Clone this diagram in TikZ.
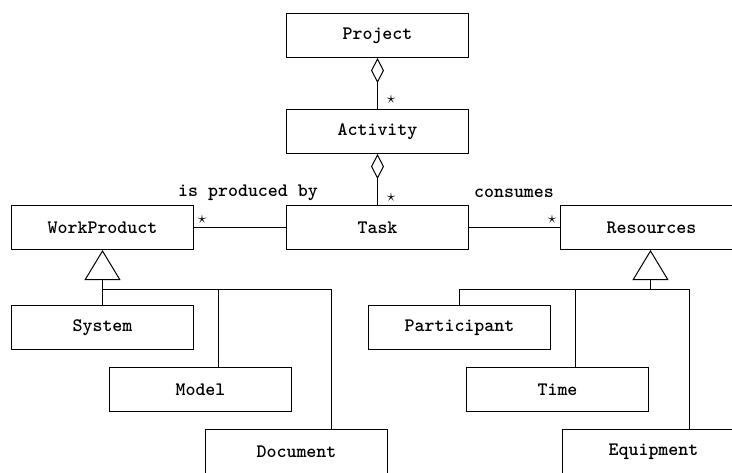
\documentclass[tikz,border=0pt]{standalone}
\usepackage{fontspec}
\usetikzlibrary{arrows.meta}

\newcommand{\umlfont}{\ttfamily\bfseries\fontsize{19}{22}\selectfont}

\begin{document}
\begin{tikzpicture}[x=1pt, y=-1pt, line width=1pt,
    cls/.style={draw, minimum width=182pt, minimum height=44pt, inner sep=0pt, font=\umlfont},
    lbl/.style={inner sep=0pt, font=\umlfont},
    mult/.style={inner sep=0pt, font=\fontsize{16}{16}\selectfont},
    agg/.style={-{Diamond[open, length=25pt, width=13pt]}},
    gen/.style={-{Triangle[open, length=30pt, width=36pt]}}]
    \useasboundingbox (0, 0) rectangle (732, 472);

    \node[cls] (project) at (377.5, 35.5) {Project};
    \node[cls] (activity) at (377.5, 131.5) {Activity};
    \node[cls] (task) at (377.5, 227.5) {Task};
    \node[cls] (workproduct) at (102.5, 227.5) {WorkProduct};
    \node[cls] (resources) at (651.5, 227.5) {Resources};

    \node[cls] (system) at (102.5, 327.5) {System};
    \node[cls] (model) at (200.5, 389.5) {Model};
    \node[cls] (document) at (296.5, 451.5) {Document};
    \node[cls] (participant) at (459.5, 327.5) {Participant};
    \node[cls] (time) at (557.5, 389.5) {Time};
    \node[cls] (equipment) at (653.5, 451.5) {Equipment};

    \node[lbl] (producedby) at (248, 193) {is produced by};
    \node[lbl] (consumes) at (514, 193) {consumes};
    \node[mult] (m1) at (391, 99) {$\star$};
    \node[mult] (m2) at (391, 197) {$\star$};
    \node[mult] (m3) at (202, 219) {$\star$};
    \node[mult] (m4) at (552, 219) {$\star$};

    \coordinate (wpbus) at (102.5, 289.5);
    \coordinate (resbus) at (650.5, 289.5);

    \draw[agg] (activity) -- (project);
    \draw[agg] (task) -- (activity);
    \draw (task) -- (workproduct);
    \draw (task) -- (resources);

    \draw[gen] (wpbus) -- (wpbus |- workproduct.south);
    \draw (system.north) -- (wpbus) -| ([xshift=35pt]document.north);
    \draw ([xshift=18pt]model.north) -- ([xshift=18pt]model.north |- wpbus);

    \draw[gen] (resbus) -- (resbus |- resources.south);
    \draw (participant.north) |- (resbus) -| ([xshift=36pt]equipment.north);
    \draw ([xshift=18pt]time.north) -- ([xshift=18pt]time.north |- resbus);
\end{tikzpicture}
\end{document}
